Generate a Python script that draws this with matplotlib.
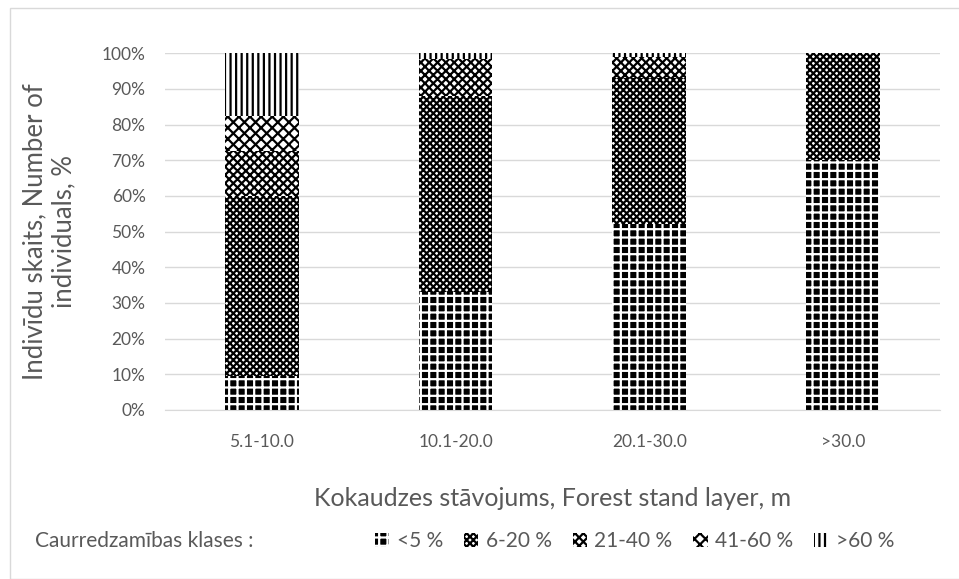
import numpy as np
import matplotlib.pyplot as plt
from matplotlib.patches import Rectangle
from matplotlib.ticker import PercentFormatter

plt.rcParams['font.family'] = ['Lato', 'DejaVu Sans']
plt.rcParams['hatch.linewidth'] = 1.6

layers = ['5.1-10.0', '10.1-20.0', '20.1-30.0', '>30.0']
classes = ['<5 %', '6-20 %', '21-40 %', '41-60 %', '>60 %']

# share of individuals per transparency class, %
lt5 = [9.5, 33.0, 52.0, 70.0]
c6_20 = [50.5, 55.0, 41.0, 30.0]
c21_40 = [12.5, 10.5, 6.0, 0.0]
c41_60 = [10.0, 0.0, 0.0, 0.0]
gt60 = [17.5, 1.5, 1.0, 0.0]

series = [lt5, c6_20, c21_40, c41_60, gt60]
faces = ['black', 'white', 'white', 'white', 'white']
hatch_cols = ['white', 'black', 'black', 'black', 'black']
hatches = ['++', 'xxxxx', 'xxxx', 'xxx', '|||']

fig = plt.figure(figsize=(9.59, 5.79), dpi=100)
ax = fig.add_axes([0.172, 0.292, 0.808, 0.616])

x = np.arange(len(layers))
bottom = np.zeros(len(layers))
handles = []
for vals, fc, hc, h, lab in zip(series, faces, hatch_cols, hatches, classes):
    b = ax.bar(x, vals, 0.38, bottom=bottom, facecolor=fc, edgecolor=hc,
               hatch=h, linewidth=0, label=lab, zorder=2)
    handles.append(b)
    bottom += np.array(vals)

ax.set_ylim(0, 100)
ax.set_xlim(-0.5, len(layers) - 0.5)
ax.set_yticks(np.arange(0, 101, 10))
ax.yaxis.set_major_formatter(PercentFormatter(decimals=0))
ax.set_xticks(x)
ax.set_xticklabels(layers)
ax.tick_params(axis='both', length=0, labelsize=12.5, labelcolor='#595959')
ax.tick_params(axis='x', pad=17)
ax.tick_params(axis='y', pad=14)
ax.grid(axis='y', color='#d9d9d9', linewidth=1, zorder=0)
for s in ['top', 'right', 'left']:
    ax.spines[s].set_visible(False)
ax.spines['bottom'].set_color('#d9d9d9')

ax.set_ylabel('Indivīdu skaits, Number of\nindividuals, %', fontsize=18.5,
              color='#595959', labelpad=18)
ax.set_xlabel('Kokaudzes stāvojums, Forest stand layer, m', fontsize=18,
              color='#595959', labelpad=27)

fig.text(0.037, 0.065, 'Caurredzamības klases :', fontsize=15, color='#595959',
         va='center')
fig.legend(handles=handles, labels=classes, loc='center left',
           bbox_to_anchor=(0.38, 0.065), ncol=5, frameon=False, fontsize=15,
           labelcolor='#595959', handlelength=0.7, handleheight=0.7,
           handletextpad=0.35, columnspacing=1.0, borderpad=0)

# chart frame
fig.add_artist(Rectangle((10 / 959, 0), 1, 1 - 8 / 579, transform=fig.transFigure,
                         fill=False, edgecolor='#d9d9d9', linewidth=1))

fig.savefig('out.png', dpi=100)
